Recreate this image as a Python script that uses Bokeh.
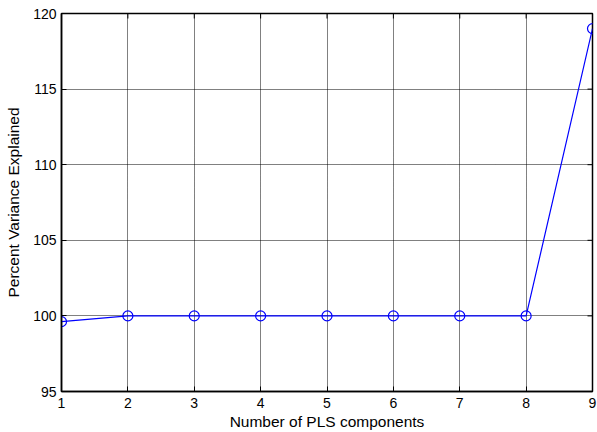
from bokeh.plotting import figure
from bokeh.models import Range1d, FixedTicker
from bokeh.embed import file_html
from bokeh.resources import INLINE

components = [1, 2, 3, 4, 5, 6, 7, 8, 9]
variance = [99.62, 100.0, 100.0, 100.0, 100.0, 100.0, 100.0, 100.0, 119.0]
x_ticks = [1, 2, 3, 4, 5, 6, 7, 8, 9]
y_ticks = [95, 100, 105, 110, 115, 120]

FONT = "Liberation Sans"

p = figure(width=597, height=432, output_backend="svg", toolbar_location=None,
           x_range=Range1d(1, 9), y_range=Range1d(95, 120),
           x_axis_label="Number of PLS components",
           y_axis_label="Percent Variance Explained",
           min_border_left=61, min_border_top=13, min_border_right=5,
           min_border_bottom=41)
p.background_fill_color = "white"
p.border_fill_color = "white"
p.outline_line_color = "black"
p.outline_line_width = 1.5

for ax in (p.xaxis[0], p.yaxis[0]):
    ax.major_label_text_font = FONT
    ax.major_label_text_font_size = "14px"
    ax.major_label_text_color = "black"
    ax.axis_label_text_font = FONT
    ax.axis_label_text_font_size = "15.5px"
    ax.axis_label_text_font_style = "normal"
    ax.axis_label_text_color = "black"
    ax.axis_line_color = "black"
    ax.axis_line_width = 1.5
    ax.major_tick_line_color = "black"
    ax.major_tick_in = 5
    ax.major_tick_out = 0
    ax.minor_tick_line_color = None

p.xaxis.ticker = FixedTicker(ticks=x_ticks)
p.yaxis.ticker = FixedTicker(ticks=y_ticks)
p.xaxis.major_label_standoff = 6
p.xaxis.axis_label_standoff = 2
p.yaxis.major_label_standoff = 5
p.yaxis.axis_label_standoff = 8

p.xgrid.ticker = FixedTicker(ticks=x_ticks)
p.ygrid.ticker = FixedTicker(ticks=y_ticks)
p.grid.grid_line_color = "black"
p.grid.grid_line_alpha = 1.0
p.grid.grid_line_dash = "1 1"
p.grid.grid_line_width = 1

# inward tick marks on the right and top edges of the box, from the tick lists
p.scatter([x_ticks[-1]] * len(y_ticks), y_ticks, marker="dash", size=10,
          line_color="black", line_width=1)
p.scatter(x_ticks, [y_ticks[-1]] * len(x_ticks), marker="dash", angle=1.5708,
          size=10, line_color="black", line_width=1)

p.line(components, variance, line_color="#0000ff", line_width=1.2)
p.scatter(components, variance, marker="circle", size=10, fill_color=None,
          line_color="#0000ff", line_width=1.2)

open("out.html", "w").write(file_html(p, INLINE))
